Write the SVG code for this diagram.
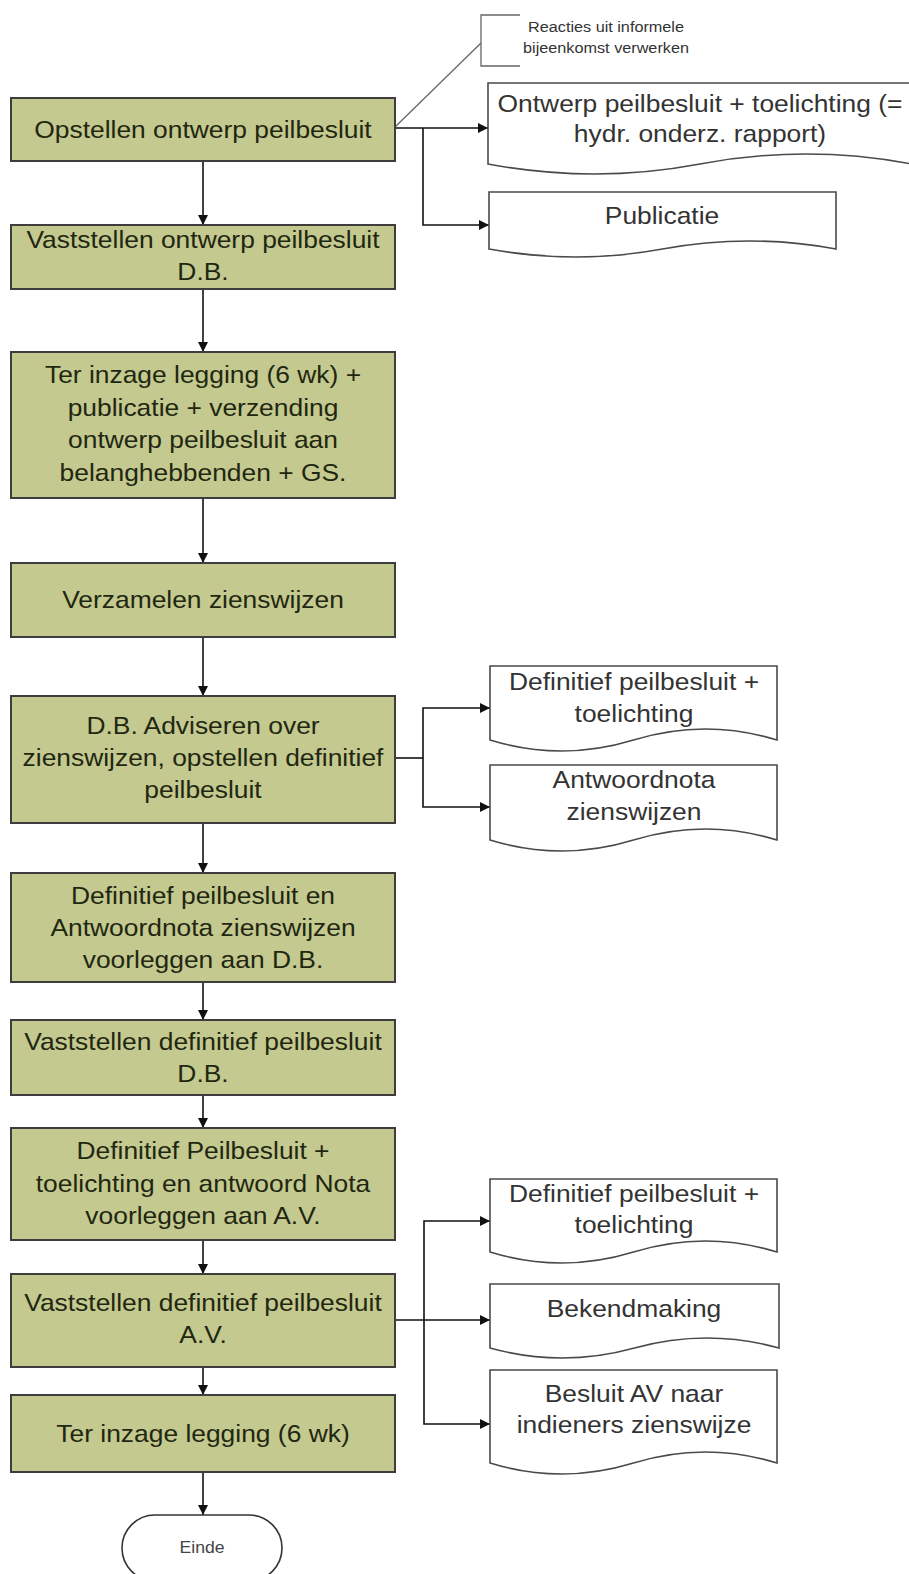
<svg xmlns="http://www.w3.org/2000/svg" width="909" height="1574" viewBox="0 0 909 1574">
<style>
.box{fill:#c4c98f;stroke:#3d3d3d;stroke-width:2}
.doc{fill:#ffffff;stroke:#4a4a4a;stroke-width:1.6}
.bt{font-family:"Liberation Sans",Arial,sans-serif;font-size:24px;fill:#1f2711;text-anchor:middle}
.dt{font-family:"Liberation Sans",Arial,sans-serif;font-size:24px;fill:#333333;text-anchor:middle}
.st{font-family:"Liberation Sans",Arial,sans-serif;font-size:14.5px;fill:#333333;text-anchor:middle}
.et{font-family:"Liberation Sans",Arial,sans-serif;font-size:16px;fill:#444444;text-anchor:middle}
.cn{fill:none;stroke:#111111;stroke-width:1.6}
.an{fill:none;stroke:#666666;stroke-width:1.3}
</style>
<defs>
<marker id="ah" viewBox="0 0 10 10" refX="10" refY="5" markerWidth="11" markerHeight="10" orient="auto" markerUnits="userSpaceOnUse">
<path d="M0,0 L10,5 L0,10 z" fill="#111111"/>
</marker>
</defs>
<rect width="909" height="1574" fill="#ffffff"/>

<g id="connectors">
<path class="cn" d="M203,161 V225" marker-end="url(#ah)"/>
<path class="cn" d="M203,289 V352" marker-end="url(#ah)"/>
<path class="cn" d="M203,498 V563" marker-end="url(#ah)"/>
<path class="cn" d="M203,637 V696" marker-end="url(#ah)"/>
<path class="cn" d="M203,823 V873" marker-end="url(#ah)"/>
<path class="cn" d="M203,982 V1020" marker-end="url(#ah)"/>
<path class="cn" d="M203,1095 V1128" marker-end="url(#ah)"/>
<path class="cn" d="M203,1240 V1274" marker-end="url(#ah)"/>
<path class="cn" d="M203,1367 V1395" marker-end="url(#ah)"/>
<path class="cn" d="M203,1472 V1515" marker-end="url(#ah)"/>
<path class="cn" d="M395,128 H488" marker-end="url(#ah)"/>
<path class="cn" d="M423,128 V225 H489" marker-end="url(#ah)"/>
<path class="cn" d="M395,758 H423"/>
<path class="cn" d="M423,758 V708 H490" marker-end="url(#ah)"/>
<path class="cn" d="M423,758 V807 H490" marker-end="url(#ah)"/>
<path class="cn" d="M395,1320 H490" marker-end="url(#ah)"/>
<path class="cn" d="M424,1320 V1221 H490" marker-end="url(#ah)"/>
<path class="cn" d="M424,1320 V1424 H490" marker-end="url(#ah)"/>
<path class="an" d="M395,127 L481,43"/>
</g>

<g id="note">
<path class="an" d="M520,15 H481 V66 H520"/>
<text class="st" transform="translate(606 32) scale(1.12 1)">Reacties uit informele</text>
<text class="st" transform="translate(606 53) scale(1.12 1)">bijeenkomst verwerken</text>
</g>

<g id="n1">
<rect class="box" x="11" y="98" width="384" height="63"/>
<text class="bt" transform="translate(203 138) scale(1.1 1)">Opstellen ontwerp peilbesluit</text>
</g>
<g id="n2">
<rect class="box" x="11" y="225" width="384" height="64"/>
<text class="bt" transform="translate(203 248) scale(1.1 1)">Vaststellen ontwerp peilbesluit</text>
<text class="bt" transform="translate(203 280) scale(1.1 1)">D.B.</text>
</g>
<g id="n3">
<rect class="box" x="11" y="352" width="384" height="146"/>
<text class="bt" transform="translate(203 383) scale(1.1 1)">Ter inzage legging (6 wk) +</text>
<text class="bt" transform="translate(203 415.5) scale(1.1 1)">publicatie + verzending</text>
<text class="bt" transform="translate(203 448) scale(1.1 1)">ontwerp peilbesluit aan</text>
<text class="bt" transform="translate(203 480.5) scale(1.1 1)">belanghebbenden + GS.</text>
</g>
<g id="n4">
<rect class="box" x="11" y="563" width="384" height="74"/>
<text class="bt" transform="translate(203 608) scale(1.1 1)">Verzamelen zienswijzen</text>
</g>
<g id="n5">
<rect class="box" x="11" y="696" width="384" height="127"/>
<text class="bt" transform="translate(203 734) scale(1.1 1)">D.B. Adviseren over</text>
<text class="bt" transform="translate(203 766) scale(1.1 1)">zienswijzen, opstellen definitief</text>
<text class="bt" transform="translate(203 798) scale(1.1 1)">peilbesluit</text>
</g>
<g id="n6">
<rect class="box" x="11" y="873" width="384" height="109"/>
<text class="bt" transform="translate(203 904) scale(1.1 1)">Definitief peilbesluit en</text>
<text class="bt" transform="translate(203 936) scale(1.1 1)">Antwoordnota zienswijzen</text>
<text class="bt" transform="translate(203 968) scale(1.1 1)">voorleggen aan D.B.</text>
</g>
<g id="n7">
<rect class="box" x="11" y="1020" width="384" height="75"/>
<text class="bt" transform="translate(203 1050) scale(1.1 1)">Vaststellen definitief peilbesluit</text>
<text class="bt" transform="translate(203 1082) scale(1.1 1)">D.B.</text>
</g>
<g id="n8">
<rect class="box" x="11" y="1128" width="384" height="112"/>
<text class="bt" transform="translate(203 1159) scale(1.1 1)">Definitief Peilbesluit +</text>
<text class="bt" transform="translate(203 1192) scale(1.1 1)">toelichting en antwoord Nota</text>
<text class="bt" transform="translate(203 1224) scale(1.1 1)">voorleggen aan A.V.</text>
</g>
<g id="n9">
<rect class="box" x="11" y="1274" width="384" height="93"/>
<text class="bt" transform="translate(203 1311) scale(1.1 1)">Vaststellen definitief peilbesluit</text>
<text class="bt" transform="translate(203 1343) scale(1.1 1)">A.V.</text>
</g>
<g id="n10">
<rect class="box" x="11" y="1395" width="384" height="77"/>
<text class="bt" transform="translate(203 1442) scale(1.1 1)">Ter inzage legging (6 wk)</text>
</g>
<g id="einde">
<rect x="122" y="1515" width="160" height="66" rx="33" fill="#ffffff" stroke="#333333" stroke-width="1.6"/>
<text class="et" transform="translate(202 1553) scale(1.1 1)">Einde</text>
</g>

<g id="d1">
<path class="doc" d="M488,83 H912 V164 Q806,144 700,164 T488,164 Z"/>
<text class="dt" transform="translate(700 112) scale(1.1 1)">Ontwerp peilbesluit + toelichting (=</text>
<text class="dt" transform="translate(700 142) scale(1.1 1)">hydr. onderz. rapport)</text>
</g>
<g id="d2">
<path class="doc" d="M489,192 H836 V249 Q749.25,233 662.5,249 T489,249 Z"/>
<text class="dt" transform="translate(662 224) scale(1.1 1)">Publicatie</text>
</g>
<g id="d3">
<path class="doc" d="M490,666 H777 V740 Q705.25,718 633.5,740 T490,740 Z"/>
<text class="dt" transform="translate(634 690) scale(1.1 1)">Definitief peilbesluit +</text>
<text class="dt" transform="translate(634 722) scale(1.1 1)">toelichting</text>
</g>
<g id="d4">
<path class="doc" d="M490,765 H777 V840 Q705.25,818 633.5,840 T490,840 Z"/>
<text class="dt" transform="translate(634 788) scale(1.1 1)">Antwoordnota</text>
<text class="dt" transform="translate(634 820) scale(1.1 1)">zienswijzen</text>
</g>
<g id="d5">
<path class="doc" d="M490,1179 H777 V1252 Q705.25,1230 633.5,1252 T490,1252 Z"/>
<text class="dt" transform="translate(634 1202) scale(1.1 1)">Definitief peilbesluit +</text>
<text class="dt" transform="translate(634 1233) scale(1.1 1)">toelichting</text>
</g>
<g id="d6">
<path class="doc" d="M490,1284 H779 V1348 Q706.75,1328 634.5,1348 T490,1348 Z"/>
<text class="dt" transform="translate(634 1317) scale(1.1 1)">Bekendmaking</text>
</g>
<g id="d7">
<path class="doc" d="M490,1370 H777 V1463 Q705.25,1441 633.5,1463 T490,1463 Z"/>
<text class="dt" transform="translate(634 1402) scale(1.1 1)">Besluit AV naar</text>
<text class="dt" transform="translate(634 1433) scale(1.1 1)">indieners zienswijze</text>
</g>
</svg>
